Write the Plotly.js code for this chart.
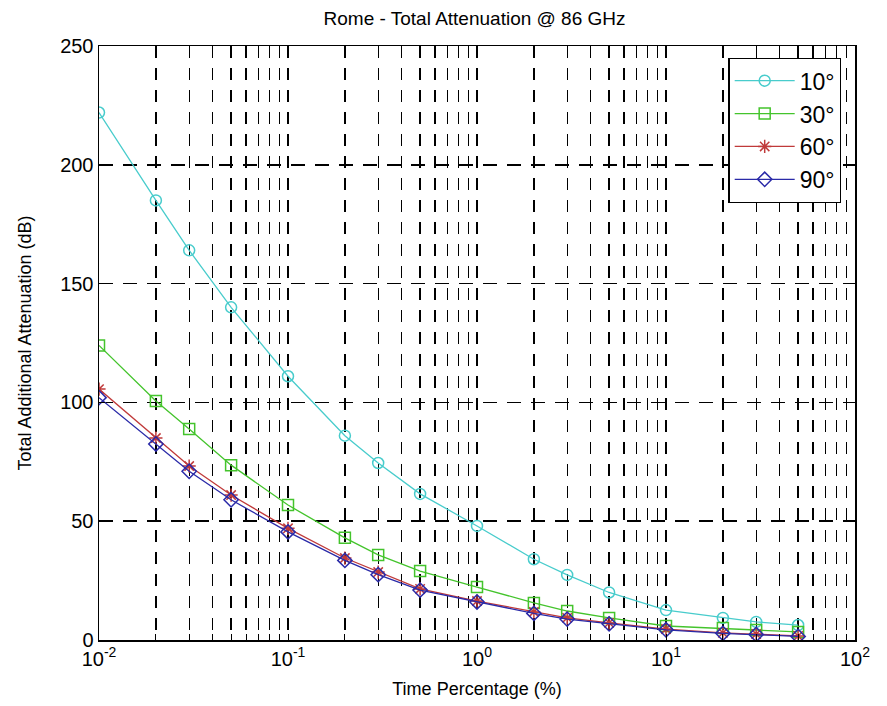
<!DOCTYPE html>
<html><head><meta charset="utf-8">
<script src="https://cdn.plot.ly/plotly-3.0.1.min.js"></script>
<style>html,body{margin:0;padding:0;background:#fff}</style>
</head><body>
<div id="chart" style="width:887px;height:706px"></div>
<script>
const timePct = [0.01, 0.02, 0.03, 0.05, 0.1, 0.2, 0.3, 0.5, 1, 2, 3, 5, 10, 20, 30, 50];
const att10 = [222, 185, 164, 140, 111, 86, 74.5, 61.5, 48, 34, 27.4, 20, 12.6, 9.3, 7.6, 6.3];
const att30 = [124, 100.6, 88.8, 73.6, 56.8, 43, 35.8, 29, 22.3, 15.6, 12.2, 9.3, 5.9, 5, 4.2, 3.4];
const att60 = [105.6, 85, 73.2, 61, 47, 34.5, 28.6, 21.5, 16.4, 11.8, 9.3, 7.2, 4.6, 3.0, 2.5, 1.7];
const att90 = [102, 82.5, 71, 59, 45.5, 33.5, 27.5, 21, 16, 11.2, 8.8, 6.8, 4.3, 2.8, 2.3, 1.5];
const seriesNames = ['10°', '30°', '60°', '90°'];
const yTicks = [0, 50, 100, 150, 200, 250];

// log grid positions: 1..9 x each decade
const xGrid = [];
const xGridText = [];
const exps = [-2, -1, 0, 1, 2];
exps.forEach(function (e) {
  for (let m = 1; m <= 9; m++) {
    if (e === 2 && m > 1) break;
    xGrid.push(m * Math.pow(10, e));
    xGridText.push(m === 1 ? '10<sup>' + e + '</sup>' : '');
  }
});

const colors = ['#48cccc', '#44c42c', '#c03a3a', '#2a2aa8'];
const symbols = ['circle-open', 'square-open', 'asterisk-open', 'diamond-open'];
const ys = [att10, att30, att60, att90];

const traces = ys.map(function (y, i) {
  return {
    x: timePct, y: y, name: seriesNames[i], type: 'scatter', mode: 'lines+markers',
    line: {color: colors[i], width: 1.3},
    marker: {symbol: symbols[i], size: 11, color: colors[i], line: {color: colors[i], width: 1.5}}
  };
});

const layout = {
  width: 887, height: 706,
  margin: {l: 99, r: 32, t: 46, b: 66},
  paper_bgcolor: '#fff', plot_bgcolor: '#fff',
  font: {family: 'Liberation Sans, Arial, sans-serif', color: '#000', size: 18},
  title: {text: 'Rome - Total Attenuation @ 86 GHz', font: {size: 19}, x: 0.535, xanchor: 'center', y: 0.974, yanchor: 'middle'},
  xaxis: {
    type: 'log', range: [-2, 2],
    tickmode: 'array', tickvals: xGrid, ticktext: xGridText,
    ticks: 'inside', ticklen: 6, tickcolor: '#000', mirror: 'ticks',
    showline: true, linecolor: '#000', linewidth: 1.5,
    showgrid: true, gridcolor: '#000', griddash: '12px,10px', gridwidth: 1.3,
    zeroline: false,
    tickfont: {size: 20},
    title: {text: 'Time Percentage (%)', font: {size: 18}, standoff: 14}
  },
  yaxis: {
    range: [0, 250], tickmode: 'array', tickvals: yTicks,
    ticks: 'inside', ticklen: 6, tickcolor: '#000', mirror: 'ticks',
    showline: true, linecolor: '#000', linewidth: 1.5,
    showgrid: true, gridcolor: '#000', griddash: '14px,10px', gridwidth: 1.5,
    zeroline: false,
    tickfont: {size: 20},
    title: {text: 'Total Additional Attenuation (dB)', font: {size: 18}, standoff: 24}
  },
  legend: {
    x: 0.982, xanchor: 'right', y: 0.98, yanchor: 'top',
    bgcolor: '#fff', bordercolor: '#000', borderwidth: 1.3,
    font: {size: 23}, itemwidth: 60, tracegroupgap: 0
  },
  showlegend: true
};

Plotly.newPlot('chart', traces, layout, {displayModeBar: false, staticPlot: true});
</script>
</body></html>
